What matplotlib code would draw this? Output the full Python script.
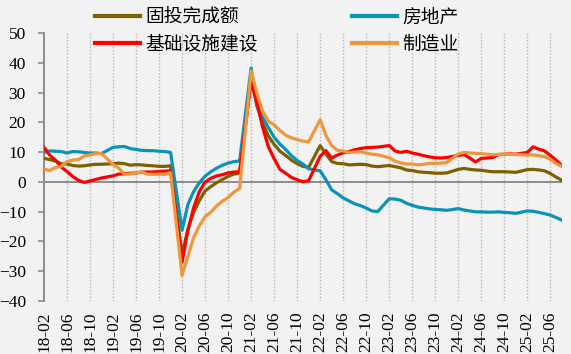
import matplotlib
matplotlib.use("Agg")
import matplotlib.pyplot as plt
import numpy as np
import pandas as pd

# Monthly cumulative YoY (%), Feb-Dec each year (Jan absent), 2018-02 .. 2025-08
fai = [7.9, 7.5, 7.0, 6.1, 6.0, 5.5, 5.3, 5.4, 5.7, 5.9, 5.9,
       6.1, 6.3, 6.1, 5.6, 5.8, 5.7, 5.5, 5.4, 5.2, 5.2, 5.4,
       -24.5, -16.1, -10.3, -6.3, -3.1, -1.6, -0.3, 0.8, 1.8, 2.6, 2.9,
       35.0, 25.6, 19.9, 15.4, 12.6, 10.3, 8.9, 7.3, 6.1, 5.2, 4.9,
       12.2, 9.3, 6.8, 6.2, 6.1, 5.7, 5.8, 5.9, 5.8, 5.3, 5.1,
       5.5, 5.1, 4.7, 4.0, 3.8, 3.4, 3.2, 3.1, 2.9, 2.9, 3.0,
       4.2, 4.5, 4.2, 4.0, 3.9, 3.6, 3.4, 3.4, 3.4, 3.3, 3.2,
       4.1, 4.2, 4.0, 3.7, 2.8, 1.6, 0.5]
realestate = [9.9, 10.4, 10.3, 10.2, 9.7, 10.2, 10.1, 9.9, 9.7, 9.7, 9.5,
              11.6, 11.8, 11.9, 11.2, 10.9, 10.6, 10.5, 10.5, 10.3, 10.2, 9.9,
              -16.3, -7.7, -3.3, -0.3, 1.9, 3.4, 4.6, 5.6, 6.3, 6.8, 7.0,
              38.3, 25.6, 21.6, 18.3, 15.0, 12.7, 10.9, 8.8, 7.2, 6.0, 4.4,
              3.7, 0.7, -2.7, -4.0, -5.4, -6.4, -7.4, -8.0, -8.8, -9.8, -10.0,
              -5.7, -5.8, -6.2, -7.2, -7.9, -8.5, -8.8, -9.1, -9.3, -9.4, -9.6,
              -9.0, -9.5, -9.8, -10.1, -10.1, -10.2, -10.2, -10.1, -10.3, -10.4, -10.6,
              -9.8, -9.9, -10.3, -10.7, -11.2, -12.0, -12.9]
infra = [11.6, 9.0, 7.3, 5.0, 3.5, 1.8, 0.5, -0.2, 0.3, 0.8, 1.3,
         2.0, 2.6, 2.7, 2.9, 3.0, 3.3, 3.3, 3.3, 3.5, 3.6, 3.7,
         -27.0, -16.4, -8.8, -3.3, -0.1, 1.2, 2.0, 2.4, 3.0, 3.3, 3.4,
         34.0, 26.9, 18.4, 11.8, 7.8, 4.2, 2.9, 1.5, 0.7, 0.0, 0.4,
         8.6, 10.5, 8.0, 9.0, 9.8, 10.2, 10.8, 11.2, 11.5, 11.6, 11.7,
         12.2, 10.4, 9.9, 10.3, 9.7, 9.3, 8.8, 8.4, 8.1, 8.0, 8.2,
         8.9, 9.2, 8.0, 6.7, 7.9, 8.0, 8.2, 9.2, 9.3, 9.4, 9.3,
         9.9, 11.8, 11.0, 10.4, 8.9, 7.3, 5.4]
manuf = [4.3, 3.8, 4.8, 5.2, 6.8, 7.3, 7.5, 8.7, 9.1, 9.5, 9.5,
         5.9, 4.6, 2.5, 2.7, 3.0, 3.3, 2.6, 2.5, 2.6, 2.5, 3.1,
         -31.5, -25.2, -18.8, -14.8, -11.7, -10.2, -8.1, -6.5, -5.3, -3.5, -2.2,
         37.3, 29.8, 23.8, 20.4, 19.2, 17.3, 15.7, 14.8, 14.2, 13.7, 13.5,
         20.9, 15.6, 12.2, 10.6, 10.4, 9.9, 10.0, 10.1, 9.7, 9.3, 9.1,
         8.1, 7.0, 6.4, 6.0, 6.0, 5.7, 5.9, 6.2, 6.2, 6.3, 6.5,
         9.4, 9.9, 9.7, 9.6, 9.5, 9.3, 9.1, 9.2, 9.3, 9.3, 9.2,
         9.0, 9.1, 8.8, 8.5, 7.5, 6.2, 5.1]

labels = ["固投完成额", "房地产", "基础设施建设", "制造业"]
colors = ["#7F6000", "#0A93BA", "#FF0000", "#F0963C"]

months = pd.period_range("2018-02", "2025-08", freq="M")
data_months = [m for m in months if m.month != 1]
xpos = np.array([(m.year - 2018) * 12 + m.month - 2 for m in data_months])
tick_months = months[::4]
tick_pos = [(m.year - 2018) * 12 + m.month - 2 for m in tick_months]
tick_labels = [m.strftime("%y-%m") for m in tick_months]

bg = "#F2F2F2"
fig = plt.figure(figsize=(5.71, 3.54), dpi=100, facecolor=bg)
ax = fig.add_axes([0.077, 0.1506, 0.907, 0.7554])
ax.set_facecolor(bg)

series = [fai, realestate, infra, manuf]
lines = []
for vals, lab, c in zip(series, labels, colors):
    ln, = ax.plot(xpos, vals, color=c, lw=2.3, label=lab, solid_joinstyle="round", zorder=3)
    lines.append(ln)

ax.set_xlim(0, xpos[-1])
ax.set_ylim(-40, 50)
ax.set_yticks(np.arange(-40, 51, 10))
ax.set_xticks(tick_pos)
ax.set_xticklabels(tick_labels, rotation=90)

for x in tick_pos[1:]:
    ax.axvline(x, color="#BDBDBD", lw=1.0, ls=(0, (1.2, 1.2)), zorder=1)
ax.axhline(0, color="#8C8C8C", lw=1.4, zorder=2)

for s in ["top", "right", "bottom"]:
    ax.spines[s].set_visible(False)
ax.spines["left"].set_color("#8C8C8C")
ax.spines["left"].set_linewidth(1.4)
ax.tick_params(axis="y", direction="out", length=4, width=1.2, color="#8C8C8C", pad=9)
ax.tick_params(axis="x", length=0, pad=8)
ax.tick_params(labelsize=12.5, labelfontfamily="Liberation Serif")

order = [lines[0], lines[2], lines[1], lines[3]]
leg = fig.legend(order, [l.get_label() for l in order], ncol=2, frameon=False,
                 loc="upper left", bbox_to_anchor=(95 / 571, 1 - 7 / 354),
                 borderaxespad=0, borderpad=0, handlelength=2.4, handletextpad=0.3,
                 columnspacing=5.0, labelspacing=0.3,
                 prop={"family": ["Noto Sans CJK SC", "DejaVu Sans"], "size": 13.5})
for l in leg.get_lines():
    l.set_linewidth(3)

fig.savefig("out.png", dpi=100, facecolor=bg)
